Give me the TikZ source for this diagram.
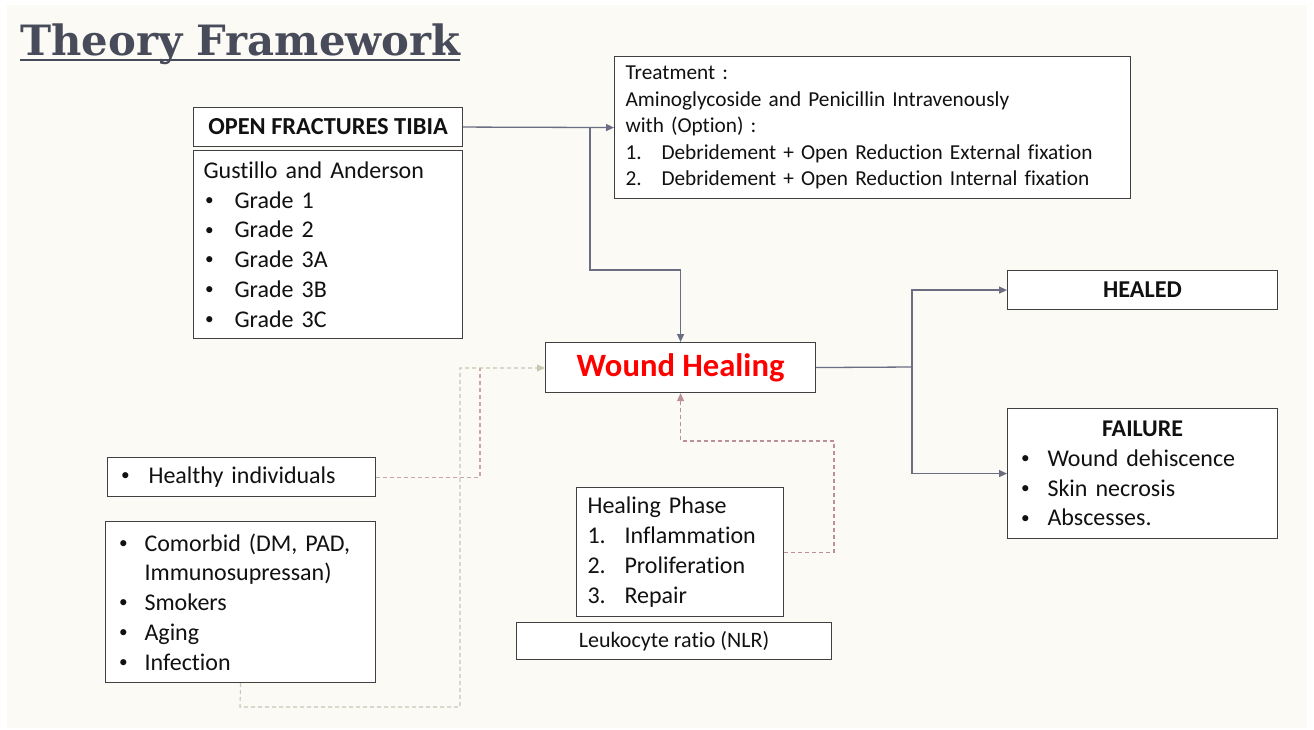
\documentclass[tikz,border=0pt]{standalone}
\usepackage{fontspec}
\setmainfont{Carlito}[Ligatures=NoCommon]
\newfontfamily\titlefont{DejaVu Serif}
\usetikzlibrary{arrows.meta}
\definecolor{bgc}{HTML}{FBFAF5}
\definecolor{titlec}{HTML}{474B5A}
\definecolor{connc}{HTML}{6B6E82}
\definecolor{pinkd}{HTML}{C9A6AA}
\definecolor{pinkdd}{HTML}{BC9096}
\definecolor{greend}{HTML}{C9C7B2}
\definecolor{boxline}{HTML}{404040}
\definecolor{txt}{HTML}{111111}
\newcommand\bl[1]{\makebox[#1][l]{\hspace{1.5pt}\raisebox{0.12em}{\scalebox{0.72}{\textbullet}}}}
\newcommand\nm[2]{\makebox[#1][l]{#2}}
\begin{document}
\begin{tikzpicture}[x=1pt,y=-1pt,
  box/.style={draw=boxline,line width=1.1pt,fill=white,anchor=north west,
    inner ysep=0pt,text=txt},
  lbox/.style={box,align=left},
  cbox/.style={box,align=center},
  conn/.style={draw=connc,line width=1.3pt,-{Triangle[length=8pt,width=7pt]}},
  connl/.style={draw=connc,line width=1.3pt},
  dpink/.style={draw=pinkd,line width=1.1pt,dash pattern=on 4pt off 3pt},
  dpinkk/.style={draw=pinkdd,line width=1.1pt,dash pattern=on 4pt off 3pt,-{Triangle[length=8pt,width=7pt]}},
  dgreen/.style={draw=greend,line width=1.1pt,dash pattern=on 4pt off 3pt,-{Triangle[length=8pt,width=7pt]}}
]
\useasboundingbox (0,0) rectangle (1314,729);
\fill[white] (0,0) rectangle (1314,729);
\fill[bgc] (7,5) rectangle (1307,728);

% title
\node[anchor=base west,inner sep=0pt,text=titlec] (title) at (20,55)
  {\resizebox{440pt}{!}{\titlefont\bfseries Theory Framework}};
\draw[titlec,line width=2pt] ([yshift=-5pt]title.base west) -- ([yshift=-5pt]title.base east);

% boxes
\node[cbox,minimum width=269pt,minimum height=39pt,inner xsep=0pt,font=\fontsize{24.4}{28}\selectfont\bfseries] (ofx) at (193,107) {OPEN FRACTURES TIBIA};

\node[lbox,minimum width=269pt,minimum height=188pt,inner xsep=10pt,text width=249pt,font=\fontsize{24}{29.8}\selectfont] (gust) at (193,150)
  {Gustillo and Anderson\\
   \bl{31pt}Grade 1\\
   \bl{31pt}Grade 2\\
   \bl{31pt}Grade 3A\\
   \bl{31pt}Grade 3B\\
   \bl{31pt}Grade 3C};

\node[lbox,minimum width=516pt,minimum height=142pt,inner xsep=11pt,text width=494pt,font=\fontsize{21.3}{26.5}\selectfont] (treat) at (614,56)
  {Treatment :\\
   Aminoglycoside and Penicillin Intravenously\\
   with (Option) :\\
   \nm{36pt}{1.}Debridement + Open Reduction External fixation\\
   \nm{36pt}{2.}Debridement + Open Reduction Internal fixation};

\node[cbox,minimum width=270pt,minimum height=50pt,inner xsep=0pt,text=red,font=\fontsize{32.6}{36}\selectfont\bfseries] (wh) at (545,342) {Wound Healing};

\node[cbox,minimum width=270pt,minimum height=39pt,inner xsep=0pt,font=\fontsize{24.2}{28}\selectfont\bfseries] (healed) at (1007,270) {HEALED};

\node[lbox,minimum width=270pt,minimum height=130pt,inner xsep=12pt,text width=246pt,font=\fontsize{24}{29.8}\selectfont] (fail) at (1007,408)
  {\makebox[246pt]{\bfseries FAILURE}\\
   \bl{28pt}Wound dehiscence\\
   \bl{28pt}Skin necrosis\\
   \bl{28pt}Abscesses.};

\node[lbox,minimum width=268pt,minimum height=39pt,inner xsep=12pt,text width=244pt,font=\fontsize{24}{28}\selectfont] (healthy) at (107,457)
  {\bl{29pt}Healthy individuals};

\node[lbox,minimum width=270pt,minimum height=161pt,inner xsep=12pt,text width=246pt,font=\fontsize{24}{29.8}\selectfont] (comorb) at (105,521)
  {\bl{27pt}Comorbid (DM, PAD,\\
   \hspace*{27pt}Immunosupressan)\\
   \bl{27pt}Smokers\\
   \bl{27pt}Aging\\
   \bl{27pt}Infection};

\node[lbox,minimum width=207pt,minimum height=129pt,inner xsep=11pt,text width=185pt,font=\fontsize{24}{29.8}\selectfont] (hp) at (576,487)
  {Healing Phase\\
   \nm{37pt}{1.}Inflammation\\
   \nm{37pt}{2.}Proliferation\\
   \nm{37pt}{3.}Repair};

\node[cbox,minimum width=315pt,minimum height=37pt,inner xsep=0pt,font=\fontsize{22}{26}\selectfont] (nlr) at (516,622) {Leukocyte ratio (NLR)};

% solid connectors
\coordinate (b1) at (590,127);
\coordinate (j1) at (590,270);
\coordinate (j2) at (912,367);
\draw[conn] (ofx.east) -- (treat.west);
\draw[conn] (b1) -- (j1) -| (wh.north);
\draw[connl] (wh.east) -- (j2);
\draw[conn] (j2) |- (healed.west);
\draw[conn] (j2) |- (fail.west);

% dashed connectors
\coordinate (p1) at (480,368);
\coordinate (g1) at (240,707);
\coordinate (g2) at (460,368);
\coordinate (h1) at (834,441);
\draw[dpink] (healthy.east) -| (p1);
\draw[dgreen] (comorb.south) -- (g1) -| (g2) -- (wh.west |- g2);
\draw[dpinkk] (hp.east) -| (h1) -| (wh.south);
\end{tikzpicture}
\end{document}
